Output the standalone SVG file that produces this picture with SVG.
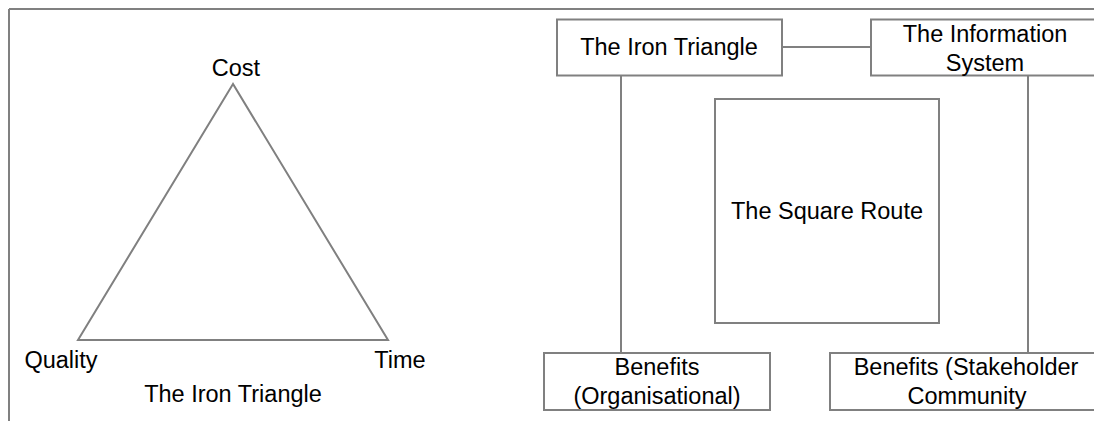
<svg xmlns="http://www.w3.org/2000/svg" width="1094" height="421" viewBox="0 0 1094 421">
  <style>
    .ln { fill: none; stroke: #808080; stroke-width: 2; }
    .box { fill: #ffffff; stroke: #808080; stroke-width: 2; }
    .t { font-family: "Liberation Sans", Arial, sans-serif; font-size: 23.5px; fill: #000000; text-anchor: middle; }
  </style>
  <rect width="1094" height="421" fill="#ffffff"/>

  <!-- outer frame: top rule and left rule -->
  <g id="frame">
    <line class="ln" x1="9" y1="9" x2="1094" y2="9"/>
    <line class="ln" x1="9" y1="9" x2="9" y2="421"/>
  </g>

  <!-- left panel: the iron triangle -->
  <g id="iron-triangle">
    <polygon class="ln" points="233,84 78,340 388,340" stroke-linejoin="miter"/>
    <text class="t" x="236" y="76">Cost</text>
    <text class="t" x="61" y="368">Quality</text>
    <text class="t" x="400" y="368">Time</text>
    <text class="t" x="233" y="402">The Iron Triangle</text>
  </g>

  <!-- right panel connectors -->
  <g id="connectors">
    <line class="ln" x1="782" y1="47" x2="871" y2="47"/>
    <line class="ln" x1="621" y1="75" x2="621" y2="353"/>
    <line class="ln" x1="1028" y1="75" x2="1028" y2="353"/>
  </g>

  <g id="node-iron">
    <rect class="box" x="557" y="19.5" width="225" height="56"/>
    <text class="t" x="669" y="55">The Iron Triangle</text>
  </g>

  <g id="node-info">
    <rect class="box" x="871" y="19.5" width="230" height="56"/>
    <text class="t" x="985" y="42">The Information</text>
    <text class="t" x="985" y="71">System</text>
  </g>

  <g id="node-square">
    <rect class="box" x="715" y="99" width="224" height="224"/>
    <text class="t" x="827" y="219">The Square Route</text>
  </g>

  <g id="node-benefits-org">
    <rect class="box" x="544" y="353" width="226" height="57"/>
    <text class="t" x="657" y="375">Benefits</text>
    <text class="t" x="657" y="404">(Organisational)</text>
  </g>

  <g id="node-benefits-stake">
    <rect class="box" x="830" y="353" width="280" height="57"/>
    <text class="t" x="966" y="375">Benefits (Stakeholder</text>
    <text class="t" x="967" y="404">Community</text>
  </g>
</svg>
